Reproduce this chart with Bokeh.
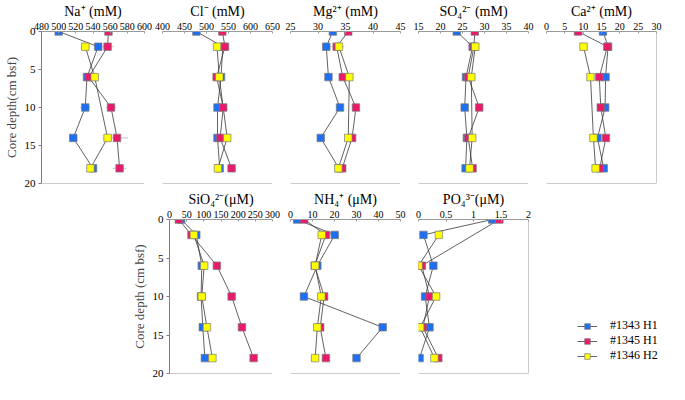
from bokeh.plotting import figure
from bokeh.layouts import row, column, Spacer
from bokeh.models import (Range1d, LinearAxis, FixedTicker, CustomJSTickFormatter,
                          Legend, LegendItem, Span)
from bokeh.embed import file_html
from bokeh.resources import INLINE

FONT = "Liberation Serif"

# ---------------- data ----------------
series_names = ["#1343 H1", "#1345 H1", "#1346 H2"]
series_colors = ["#1f6ff2", "#ea1a6a", "#ffff00"]

depth_a = [0, 2, 6, 10, 14, 18]          # #1343, #1345 (major ions)
depth_b = [2, 6, 14, 18]                 # #1346 (major ions)
depth_n = [0, 2, 6, 10, 14, 18]          # nutrients #1343/#1345
depth_nb = [2, 6, 10, 14, 18]            # nutrients #1346
depth_po4_1345 = [0, 6, 10, 14, 18]

na_1343 = [500, 546, 533, 531, 517, 540]
na_1345 = [558, 557, 535, 561, 568, 571]
na_1346 = [531, 542, 557, 537]
na_err_1343 = [0, 4, 3, 6, 4, 5]
na_err_1345 = [0, 7, 3, 6, 13, 8]
na_err_1346 = [5, 3, 5, 5]

cl_1343 = [477, 537, 533, 525, 525, 530]
cl_1345 = [536, 542, 523, 538, 531, 557]
cl_1346 = [524, 529, 547, 526]

mg_1343 = [32.7, 31.5, 31.9, 34.0, 30.5, 33.8]
mg_1345 = [35.5, 33.4, 34.5, 36.9, 36.2, 34.4]
mg_1346 = [33.8, 35.7, 35.5, 33.7]
mg_err_1343 = [0, 0, 0, 0, 0, 0]
mg_err_1345 = [0, 1.2, 0, 0, 0, 0.4]
mg_err_1346 = [1.0, 0, 0, 0.4]

so4_1343 = [23.7, 27.3, 25.8, 25.5, 26.0, 25.7]
so4_1345 = [27.8, 27.6, 26.3, 28.8, 26.3, 27.3]
so4_1346 = [27.9, 27.0, 27.2, 26.6]

ca_1343 = [15.4, 16.8, 16.1, 16.0, 13.9, 15.6]
ca_1345 = [8.6, 16.6, 14.4, 14.8, 16.2, 14.5]
ca_1346 = [10.1, 12.0, 12.8, 13.4]

sio4_1343 = [34, 78, 94, 92, 97, 103]
sio4_1345 = [27, 64, 138, 181, 211, 245]
sio4_1346 = [71, 101, 94, 109, 125]

nh4_1343 = [3.0, 20.1, 12.2, 6.1, 41.9, 30.0]
nh4_1345 = [6.2, 16.1, 11.0, 15.3, 13.5, 16.1]
nh4_1346 = [14.2, 11.2, 14.0, 12.2, 11.2]

po4_1343 = [1.34, 0.09, 0.27, 0.12, 0.20, 0.02]
po4_1345 = [1.47, 0.06, 0.20, 0.08, 0.36]
po4_1346 = [0.37, 0.0, 0.32, 0.03, 0.29]

na_ticks = [480, 500, 520, 540, 560, 580, 600]
cl_ticks = [400, 450, 500, 550, 600, 650]
mg_ticks = [25, 30, 35, 40, 45]
so4_ticks = [15, 20, 25, 30, 35, 40]
ca_ticks = [0, 5, 10, 15, 20, 25, 30]
sio4_ticks = [0, 50, 100, 150, 200, 250, 300]
nh4_ticks = [0, 10, 20, 30, 40, 50]
po4_ticks = [0, 0.5, 1, 1.5, 2]
depth_ticks = [0, 5, 10, 15, 20]

# ---------------- layout sizes ----------------
FRAME_W = 110
FRAME_H = 155
BL_FIRST = 34
B_SIDE = 9
LEGEND_W = 128
TOP_BT, TOP_BB = 28, 5
BOT_BT, BOT_BB = 30, 7
AX_GRAY = "#9a9a9a"
LINE_C = "#3a3a3a"
EDGE_C = "#7a7a7a"
MSIZE = 7.5


def panel(title, ticks, series, bt, bb, ylabel=None, right=False, errors=None, fmt=None):
    bl = BL_FIRST if ylabel else B_SIDE
    br = B_SIDE
    w = bl + FRAME_W + br
    h = bt + FRAME_H + bb
    p = figure(width=w, height=h, x_range=Range1d(ticks[0], ticks[-1]),
               y_range=Range1d(depth_ticks[-1], depth_ticks[0]),
               output_backend="svg", toolbar_location=None, x_axis_location="above",
               y_axis_location=None, min_border_left=bl, min_border_right=br,
               min_border_top=bt, min_border_bottom=bb)
    p.outline_line_color = None
    p.grid.visible = False

    ax = p.xaxis[0]
    ax.ticker = FixedTicker(ticks=ticks)
    if fmt is not None:
        ax.formatter = fmt
    ax.axis_line_color = AX_GRAY
    ax.major_tick_line_color = AX_GRAY
    ax.major_tick_in = 2
    ax.major_tick_out = 0
    ax.minor_tick_line_color = None
    ax.major_label_text_font = FONT
    ax.major_label_text_font_size = "10px"
    ax.major_label_text_color = "black"
    ax.major_label_standoff = 2
    ax.axis_label = title
    ax.axis_label_text_font = FONT
    ax.axis_label_text_font_style = "normal"
    ax.axis_label_text_font_size = "14px"
    ax.axis_label_text_color = "black"
    ax.axis_label_standoff = 1

    # bottom frame line
    p.add_layout(Span(location=depth_ticks[-1], dimension="width",
                      line_color=AX_GRAY, line_width=1))

    if ylabel:
        ly = LinearAxis(ticker=FixedTicker(ticks=depth_ticks), axis_label=ylabel,
                        axis_line_color="#808080", major_tick_line_color="#808080",
                        major_tick_in=0, major_tick_out=3, minor_tick_line_color=None,
                        major_label_text_font=FONT, major_label_text_font_size="11px",
                        major_label_text_color="black", major_label_standoff=3,
                        axis_label_text_font=FONT, axis_label_text_font_style="normal",
                        axis_label_text_font_size="13px", axis_label_standoff=3)
        p.add_layout(ly, "left")
    if right:
        p.add_layout(Span(location=ticks[-1], dimension="height",
                          line_color=AX_GRAY, line_width=1))

    if errors:
        for (xs, ds), err in zip(series, errors):
            lo = [x - e for x, e in zip(xs, err)]
            hi = [x + e for x, e in zip(xs, err)]
            p.segment(x0=lo, y0=ds, x1=hi, y1=ds, line_color="#c4c4c4", line_width=1)
    for xs, ds in series:
        p.line(x=xs, y=ds, line_color=LINE_C, line_width=0.8)
    for (xs, ds), c in zip(series, series_colors):
        p.scatter(x=xs, y=ds, marker="square", size=MSIZE, fill_color=c,
                  line_color=EDGE_C, line_width=0.7)
    return p


# ---------------- top row ----------------
p_na = panel("Na\u207a (mM)", na_ticks,
             [(na_1343, depth_a), (na_1345, depth_a), (na_1346, depth_b)],
             TOP_BT, TOP_BB, ylabel="Core depth(cm bsf)",
             errors=[na_err_1343, na_err_1345, na_err_1346])
p_cl = panel("Cl\u207b (mM)", cl_ticks,
             [(cl_1343, depth_a), (cl_1345, depth_a), (cl_1346, depth_b)], TOP_BT, TOP_BB)
p_mg = panel("Mg\u00b2\u207a (mM)", mg_ticks,
             [(mg_1343, depth_a), (mg_1345, depth_a), (mg_1346, depth_b)], TOP_BT, TOP_BB,
             errors=[mg_err_1343, mg_err_1345, mg_err_1346])
p_so4 = panel("SO\u2084\u00b2\u207b (mM)", so4_ticks,
              [(so4_1343, depth_a), (so4_1345, depth_a), (so4_1346, depth_b)],
              TOP_BT, TOP_BB)
p_ca = panel("Ca\u00b2\u207a (mM)", ca_ticks,
             [(ca_1343, depth_a), (ca_1345, depth_a), (ca_1346, depth_b)], TOP_BT, TOP_BB,
             right=True)

# ---------------- bottom row ----------------
p_si = panel("SiO\u2084\u00b2\u207b(\u03bcM)", sio4_ticks,
             [(sio4_1343, depth_n), (sio4_1345, depth_n), (sio4_1346, depth_nb)],
             BOT_BT, BOT_BB, ylabel="Core depth (cm bsf)")
p_nh = panel("NH\u2084\u207a (\u03bcM)", nh4_ticks,
             [(nh4_1343, depth_n), (nh4_1345, depth_n), (nh4_1346, depth_nb)],
             BOT_BT, BOT_BB)
p_po = panel("PO\u2084\u00b3\u207b(\u03bcM)", po4_ticks,
             [(po4_1343, depth_n), (po4_1345, depth_po4_1345), (po4_1346, depth_nb)],
             BOT_BT, BOT_BB, right=True,
             fmt=CustomJSTickFormatter(code="return String(tick)"))

# ---------------- legend panel ----------------
# The legend figure draws the PO4 series too, but its view range lies away from
# the data, so only the legend entries are visible.
bot_h = BOT_BT + FRAME_H + BOT_BB
lf = figure(width=LEGEND_W, height=bot_h, output_backend="svg", toolbar_location=None,
            x_axis_location=None, y_axis_location=None, min_border=0,
            x_range=Range1d(-20, -19), y_range=Range1d(-20, -19))
lf.grid.visible = False
lf.outline_line_color = None
items = []
for name, c, (xs, ds) in zip(series_names, series_colors,
                             [(po4_1343, depth_n), (po4_1345, depth_po4_1345),
                              (po4_1346, depth_nb)]):
    lr = lf.line(x=xs, y=ds, line_color=LINE_C, line_width=0.8)
    sr = lf.scatter(x=xs, y=ds, marker="square", size=8, fill_color=c,
                    line_color=EDGE_C, line_width=0.7)
    items.append(LegendItem(label=name, renderers=[lr, sr]))
leg = Legend(items=items, location=(40, 10), background_fill_alpha=0, border_line_alpha=0,
             label_text_font=FONT, label_text_font_size="12px", label_text_color="black",
             glyph_width=20, glyph_height=14, spacing=0, padding=0, margin=0,
             label_standoff=13, label_height=13)
lf.add_layout(leg)

top = row(p_na, p_cl, p_mg, p_so4, p_ca)
spacer_w = FRAME_W + B_SIDE + B_SIDE
bottom = row(Spacer(width=spacer_w, height=bot_h), p_si, p_nh, p_po, lf)
layout = column(top, bottom)

open("out.html", "w").write(file_html(layout, INLINE))
